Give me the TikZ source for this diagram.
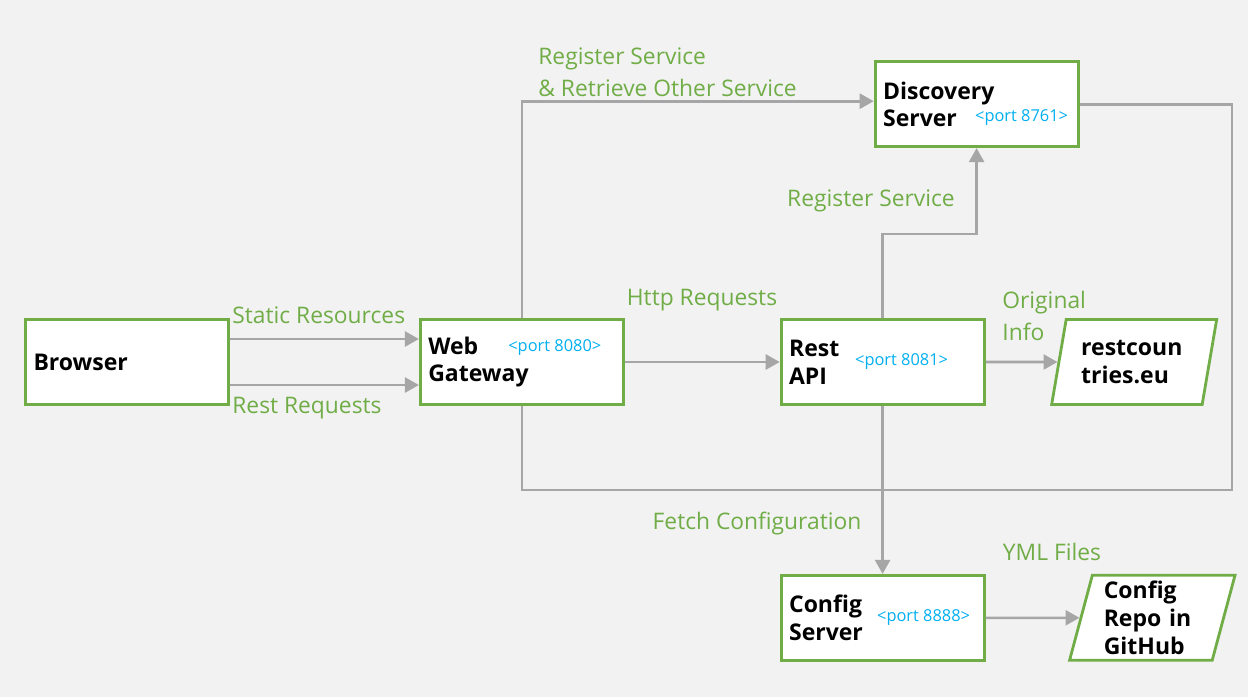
\documentclass[tikz,border=0pt]{standalone}
\usepackage{fontspec}
\setmainfont{Open Sans}
\usetikzlibrary{
	shapes.geometric,
	arrows.meta,
	positioning,
	calc
}

\definecolor{boxgreen}{HTML}{70AD47}
\definecolor{portblue}{HTML}{00B0F0}
\definecolor{linegray}{HTML}{A6A6A6}
\definecolor{bggray}{HTML}{F2F2F2}

\begin{document}
\begin{tikzpicture}[
    x=0.5pt, y=-0.5pt,
    box/.style={rectangle, draw=boxgreen, line width=1.4pt, fill=white, minimum width=101.5pt, minimum height=42.5pt, text width=93.5pt, inner xsep=4pt, align=left, font=\fontsize{11.5}{13.8}\selectfont\bfseries},
    store/.style={trapezium, trapezium left angle=76, trapezium right angle=104, trapezium stretches=true, draw=boxgreen, line width=1.4pt, fill=white, minimum width=83pt, minimum height=42.5pt, inner sep=1pt, align=left, font=\fontsize{11.5}{13.8}\selectfont\bfseries},
    port/.style={font=\fontsize{8.2}{10}\selectfont, text=portblue, inner sep=0pt},
    flowtext/.style={text=boxgreen, font=\fontsize{11.4}{16}\selectfont, inner sep=0pt},
    arrow/.style={line width=1.3pt, draw=linegray, -{Triangle[length=7pt,width=7.5pt]}},
    wire/.style={line width=1.3pt, draw=linegray}
]

% Background
\fill[bggray] (0,0) rectangle (1248,697);

% Browser
\node[box] (browser) at (127,362) {Browser};

% Services
\node[box, right=94.5pt of browser] (gateway) {Web\\Gateway};
\node[box, right=77.5pt of gateway] (restapi) {Rest\\API};
\node[box, above=85pt of restapi, xshift=47pt] (discovery) {Discovery\\Server};
\node[box, below=84pt of restapi] (configsrv) {Config\\Server};

% External sources
\node[store, text width=53pt, right=36pt of restapi] (restcountries) {restcoun\\tries.eu};
\node[store, text width=48.5pt, right=47pt of configsrv] (configrepo) {Config\\Repo in\\GitHub};

% Ports
\node[port, left=11.5pt of gateway.east, yshift=7pt] (gatewayport) {<port 8080>};
\node[port, left=18.5pt of restapi.east] (restapiport) {<port 8081>};
\node[port, left=5.5pt of discovery.east, yshift=-6.5pt] (discoveryport) {<port 8761>};
\node[port, left=7.5pt of configsrv.east] (configsrvport) {<port 8888>};

% Arrows (requests)
\draw[arrow] ([yshift=11.5pt]browser.east) -- ([yshift=11.5pt]gateway.west);
\draw[arrow] ([yshift=-11.5pt]browser.east) -- ([yshift=-11.5pt]gateway.west);
\draw[arrow] (gateway) -- (restapi);
\draw[arrow] (restapi) -- (restcountries);

% Registration
\draw[arrow] (gateway.north) |- ([yshift=1.5pt]discovery.west);
\draw[arrow] (restapi.north) -- ++(0,-84) -| (discovery.south);

% Configuration
\draw[arrow] (restapi) -- (configsrv);
\draw[arrow] (configsrv) -- (configrepo);

% Discovery back to gateway
\coordinate (loopcorner) at (1232,490);
\draw[wire] (discovery.east) -| (loopcorner) -| (gateway.south);

% Labels
\node[flowtext, anchor=west] (staticlbl) at (232,315) {Static Resources};
\node[flowtext, anchor=west] (restlbl) at (232,408) {Rest Requests};
\node[flowtext] (httplbl) at (702,300) {Http Requests};
\node[flowtext, anchor=west, align=left] (registerlbl) at (538,72) {Register Service\\\& Retrieve Other Service};
\node[flowtext] (selfreglbl) at (871,201) {Register Service};
\node[flowtext, anchor=west, align=left] (originlbl) at (1002,316) {Original\\Info};
\node[flowtext] (fetchlbl) at (757,524) {Fetch Configuration};
\node[flowtext] (ymllbl) at (1052,552) {YML Files};

\end{tikzpicture}
\end{document}
